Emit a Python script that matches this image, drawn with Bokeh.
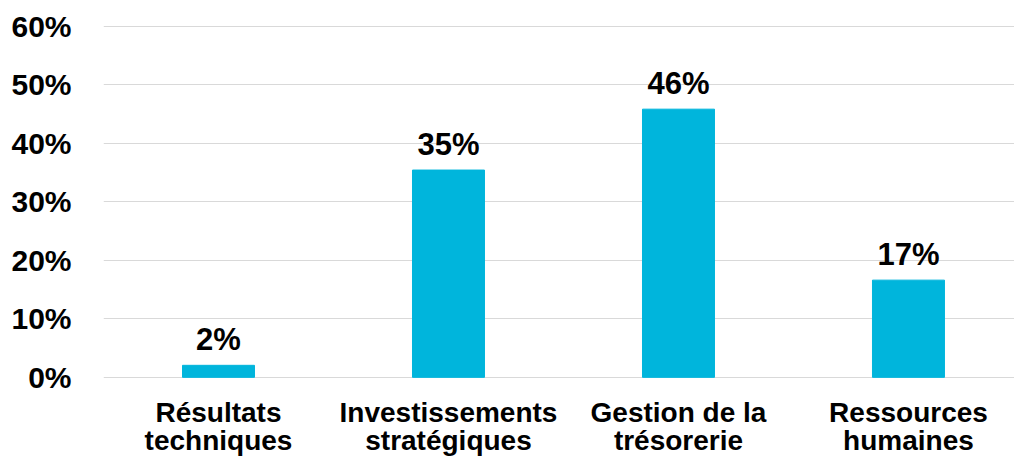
from bokeh.plotting import figure
from bokeh.models import ColumnDataSource, FixedTicker, PrintfTickFormatter, Range1d
from bokeh.core.properties import value
from bokeh.embed import file_html
from bokeh.resources import INLINE

categories = ["Résultats\ntechniques", "Investissements\nstratégiques", "Gestion de la\ntrésorerie", "Ressources\nhumaines"]
values = [2.05, 35.4, 45.8, 16.6]
value_labels = ["2%", "35%", "46%", "17%"]
y_ticks = [0, 10, 20, 30, 40, 50, 60]

FONT = "Liberation Sans"
positions = list(range(len(categories)))

src = ColumnDataSource(dict(x=positions, top=values, label=value_labels))

p = figure(width=1014, height=459, output_backend="svg", toolbar_location=None,
           x_range=Range1d(-0.5, 3.461), y_range=Range1d(-0.2, 60.6),
           min_border_left=103, min_border_right=0, min_border_top=22, min_border_bottom=81)
p.outline_line_color = None
p.background_fill_color = "white"
p.border_fill_color = "white"

p.vbar(x="x", top="top", bottom=0, width=0.313, source=src, color="#00B5DC")
p.text(x="x", y="top", text="label", source=src, text_align="center",
       text_baseline="alphabetic", y_offset=-26, text_font=value(FONT),
       text_font_style="bold", text_font_size="31px", text_color="black")

p.xgrid.grid_line_color = None
p.ygrid.ticker = FixedTicker(ticks=y_ticks)
p.ygrid.grid_line_color = "#D9D9D9"
p.ygrid.grid_line_width = 1

p.yaxis.ticker = FixedTicker(ticks=y_ticks)
p.yaxis.formatter = PrintfTickFormatter(format="%d%%")
p.yaxis.axis_line_color = None
p.yaxis.major_tick_line_color = None
p.yaxis.minor_tick_line_color = None
p.yaxis.major_label_standoff = 26
p.yaxis.major_label_text_font = FONT
p.yaxis.major_label_text_font_style = "bold"
p.yaxis.major_label_text_font_size = "30px"
p.yaxis.major_label_text_color = "black"

p.xaxis.ticker = FixedTicker(ticks=positions)
p.xaxis.major_label_overrides = {i: c for i, c in zip(positions, categories)}
p.xaxis.axis_line_color = None
p.xaxis.major_tick_line_color = None
p.xaxis.minor_tick_line_color = None
p.xaxis.major_label_standoff = 12
p.xaxis.major_label_text_font = FONT
p.xaxis.major_label_text_font_style = "bold"
p.xaxis.major_label_text_font_size = "28px"
p.xaxis.major_label_text_line_height = 0.92
p.xaxis.major_label_text_color = "black"

open("out.html", "w").write(file_html(p, INLINE))
